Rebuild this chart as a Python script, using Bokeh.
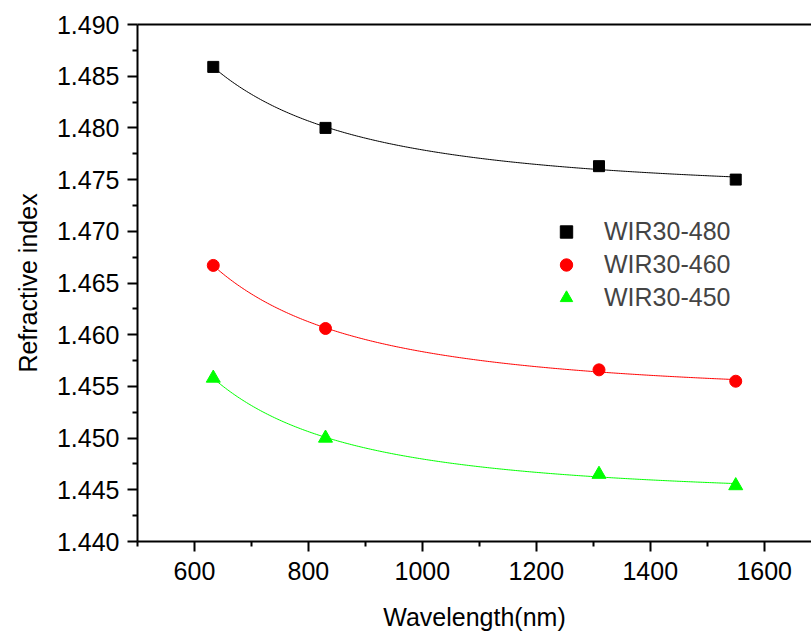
import numpy as np
from bokeh.plotting import figure
from bokeh.models import Range1d, FixedTicker, LinearAxis, Legend, LegendItem, NumeralTickFormatter
from bokeh.embed import file_html
from bokeh.resources import INLINE

# ---- data ----
wavelength = [633, 830, 1310, 1550]
n_480 = [1.4859, 1.4800, 1.4763, 1.4750]
n_460 = [1.4667, 1.4606, 1.4566, 1.4555]
n_450 = [1.4558, 1.4500, 1.4465, 1.4454]
series_names = ["WIR30-480", "WIR30-460", "WIR30-450"]
series_colors = ["#000000", "#FF0000", "#00FF00"]
series_markers = ["square", "circle", "triangle"]
marker_sizes = [11, 12, 14]

x_ticks = [600, 800, 1000, 1200, 1400, 1600]
x_minor = [500, 700, 900, 1100, 1300, 1500, 1700]
y_ticks = [1.440, 1.445, 1.450, 1.455, 1.460, 1.465, 1.470, 1.475, 1.480, 1.485, 1.490]
y_minor = [1.4425, 1.4475, 1.4525, 1.4575, 1.4625, 1.4675, 1.4725, 1.4775, 1.4825, 1.4875]

FONT = "Liberation Sans"
FS = "25px"

p = figure(width=811, height=636,
           x_range=Range1d(500, 1683), y_range=Range1d(1.44, 1.49),
           output_backend="svg", toolbar_location=None,
           min_border_left=137, min_border_right=0, min_border_top=24, min_border_bottom=95,
           x_axis_label="Wavelength(nm)", y_axis_label="Refractive index")
p.grid.visible = False
p.outline_line_color = None
p.background_fill_color = "white"
p.border_fill_color = "white"

p.xaxis.ticker = FixedTicker(ticks=x_ticks, minor_ticks=x_minor)
p.yaxis.ticker = FixedTicker(ticks=y_ticks, minor_ticks=y_minor)
p.yaxis.formatter = NumeralTickFormatter(format="0.000")

for ax in [p.xaxis[0], p.yaxis[0]]:
    ax.axis_line_width = 2
    ax.major_tick_line_width = 2
    ax.minor_tick_line_width = 2
    ax.major_tick_in = 0
    ax.major_tick_out = 10
    ax.minor_tick_in = 0
    ax.minor_tick_out = 5
    ax.major_label_text_font = FONT
    ax.major_label_text_font_size = FS
    ax.major_label_text_color = "black"
    ax.axis_label_text_font = FONT
    ax.axis_label_text_font_size = FS
    ax.axis_label_text_font_style = "normal"
    ax.axis_label_text_color = "black"

p.yaxis.major_label_standoff = 8
p.yaxis.axis_label_standoff = 12
p.xaxis.major_label_standoff = 10
p.xaxis.axis_label_standoff = 20

top = LinearAxis(ticker=FixedTicker(ticks=[], minor_ticks=[]), axis_line_width=2,
                 major_tick_line_color=None, minor_tick_line_color=None, axis_label=None)
p.add_layout(top, "above")

lam = np.array(wavelength, dtype=float)
xs = np.linspace(lam.min(), lam.max(), 300)
items = []
for name, vals, col, mk, sz in zip(series_names, [n_480, n_460, n_450],
                                   series_colors, series_markers, marker_sizes):
    coef = np.polyfit(1.0 / lam**2, np.array(vals), 2)
    ys = np.polyval(coef, 1.0 / xs**2)
    p.line(xs, ys, line_color=col, line_width=1)
    r = p.scatter(wavelength, vals, marker=mk, size=sz, fill_color=col, line_color=col)
    items.append(LegendItem(label=name, renderers=[r]))

legend = Legend(items=items, location=(413, 228), padding=0, margin=0,
                border_line_color=None, background_fill_alpha=0,
                label_text_font=FONT, label_text_font_size=FS,
                glyph_width=32, glyph_height=31, label_height=31,
                label_standoff=22, spacing=2)
p.add_layout(legend)

open("out.html", "w").write(file_html(p, INLINE))
